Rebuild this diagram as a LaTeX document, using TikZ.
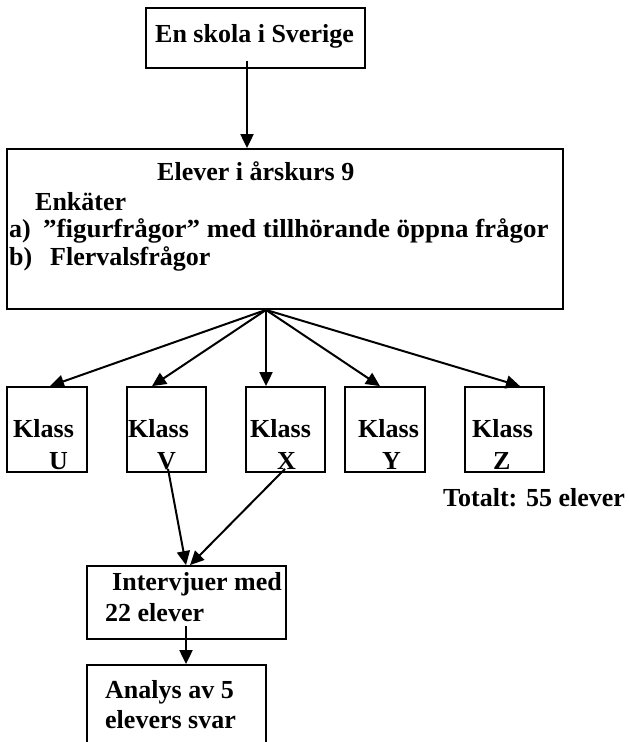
\documentclass[tikz,border=0pt]{standalone}
\usepackage{fontspec}
\setmainfont{Liberation Serif}
\usetikzlibrary{arrows.meta,calc}
\tikzset{
  box/.style={draw=black, line width=1.8pt, inner sep=0pt, fill=white},
  txt/.style={anchor=base west, inner sep=0pt, font=\fontsize{26}{30}\selectfont\bfseries},
  arr/.style={line width=2pt, -{Triangle[length=14pt,width=13pt]}}
}
\begin{document}
\begin{tikzpicture}[x=1pt,y=-1pt]
\useasboundingbox[fill=white] (0,0) rectangle (629,742);
% boxes
\node[box, minimum width=219pt, minimum height=60pt] (top) at (255.5,38) {};
\node[box, minimum width=556pt, minimum height=160pt] (big) at (285,229) {};
\node[box, minimum width=80pt, minimum height=85pt] (U) at (47,429.5) {};
\node[box, minimum width=79pt, minimum height=85pt] (V) at (166.5,429.5) {};
\node[box, minimum width=79pt, minimum height=85pt] (X) at (285.5,429.5) {};
\node[box, minimum width=80pt, minimum height=85pt] (Y) at (385,429.5) {};
\node[box, minimum width=79pt, minimum height=85pt] (Z) at (504.5,429.5) {};
\node[box, minimum width=199pt, minimum height=73pt] (int) at (186.5,602.5) {};
\node[box, minimum width=179pt, minimum height=95pt] (ana) at (176.5,712.5) {};
% texts
\node[txt] (t1) at (155,42) {En skola i Sverige};
\node[txt] (t2) at (157,180) {Elever i årskurs 9};
\node[txt] (t3) at (35,210) {Enkäter};
\node[txt] (t4a) at (9,237) {a)};
\node[txt] (t4) at (43,237) {\scalebox{1.035}[1]{”figurfrågor” med tillhörande öppna frågor}};
\node[txt] (t5a) at (9,265) {b)};
\node[txt] (t5) at (50,265) {Flervalsfrågor};
\node[txt] (kU) at (13,437) {Klass};
\node[txt] (lU) at (49,469) {U};
\node[txt] (kV) at (128,437) {Klass};
\node[txt] (lV) at (157,469) {V};
\node[txt] (kX) at (250,437) {Klass};
\node[txt] (lX) at (277,469) {X};
\node[txt] (kY) at (358,437) {Klass};
\node[txt] (lY) at (382,469) {Y};
\node[txt] (kZ) at (472,437) {Klass};
\node[txt] (lZ) at (493,469) {Z};
\node[txt] (tot) at (443,506) {Totalt: 55 elever};
\node[txt] (i1) at (112,590) {Intervjuer med};
\node[txt] (i2) at (105,621) {22 elever};
\node[txt] (a1) at (105,698) {Analys av 5};
\node[txt] (a2) at (105,728) {elevers svar};
% connectors
\coordinate (hub) at ([xshift=-19pt]big.south);
\draw[arr] ([shift={(-8.5pt,8pt)}]top.south) -- ([xshift=-38pt]big.north);
\draw[arr] (hub) -- ([xshift=3pt]U.north);
\draw[arr] (hub) -- ([xshift=-14.5pt]V.north);
\draw[arr] (hub) -- ([xshift=-19.5pt]X.north);
\draw[arr] (hub) -- ([xshift=-5pt]Y.north);
\draw[arr] (hub) -- ([xshift=15.5pt]Z.north);
\draw[arr] ([shift={(1.5pt,4pt)}]V.south) -- ([xshift=-0.5pt]int.north);
\draw[arr] ([shift={(-0.5pt,4pt)}]X.south) -- ([xshift=3.5pt]int.north);
\draw[arr] ([shift={(-0.5pt,14pt)}]int.south) -- ([xshift=9.5pt]ana.north);
\end{tikzpicture}
\end{document}
